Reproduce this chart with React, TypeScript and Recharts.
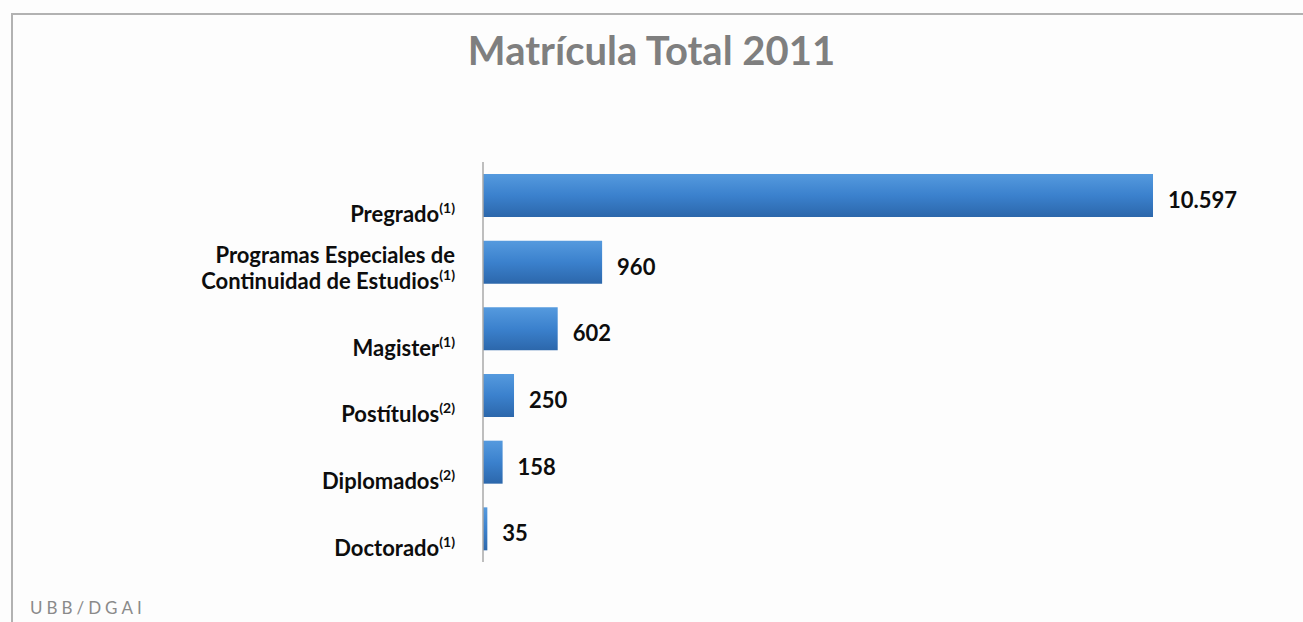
import { BarChart, Bar, XAxis, YAxis, LabelList } from "recharts";

const categories = [
  "Pregrado",
  "Programas Especiales de\nContinuidad de Estudios",
  "Magister",
  "Postítulos",
  "Diplomados",
  "Doctorado",
];
const notes = ["1", "1", "1", "2", "2", "1"];
const enrolment = [10597, 960, 602, 250, 158, 35];

// the source chart breaks the scale: Pregrado runs off the axis end
const AXIS_MAX = 5400;

const data = categories.map((name, i) => ({
  name,
  value: enrolment[i],
  shown: Math.min(enrolment[i], AXIS_MAX),
}));

const FONT = "Lato, 'Open Sans', sans-serif";

const fmt = (v: number) => String(v).replace(/\B(?=(\d{3})+(?!\d))/g, ".");

function CategoryTick(props: any) {
  const { x, y, payload } = props;
  const idx = categories.indexOf(payload.value);
  const lines = String(payload.value).split("\n");
  const last = lines.length - 1;
  return (
    <g>
      {lines.map((line, i) => (
        <text
          key={i}
          x={x}
          y={y + 27 - (last - i) * 26}
          textAnchor="end"
          fontFamily={FONT}
          fontWeight={700}
          fontSize={22}
          fill="#0d0d0d"
        >
          {line}
          {i === last && (
            <tspan dy={-9} fontSize={14}>
              ({notes[idx]})
            </tspan>
          )}
        </text>
      ))}
    </g>
  );
}

function ValueLabel(props: any) {
  const { x, y, width, height, index } = props;
  return (
    <text
      x={Number(x) + Number(width) + 15}
      y={Number(y) + Number(height) / 2 + 4}
      dominantBaseline="central"
      fontFamily={FONT}
      fontWeight={700}
      fontSize={22}
      fill="#0d0d0d"
    >
      {fmt(enrolment[index])}
    </text>
  );
}

export default function App() {
  return (
    <div
      style={{
        position: "absolute",
        left: 0,
        top: 0,
        width: 1303,
        height: 622,
        overflow: "hidden",
        background: "#fdfdfd",
      }}
    >
      <div
        style={{
          position: "absolute",
          left: 11,
          top: 13,
          width: 1300,
          height: 620,
          borderTop: "2px solid #b2b2b2",
          borderLeft: "2px solid #b2b2b2",
        }}
      />
      <div
        style={{
          position: "absolute",
          left: 0,
          width: 1303,
          top: 26,
          textAlign: "center",
          fontFamily: FONT,
          fontWeight: 700,
          fontSize: 40,
          color: "#7f7f7f",
        }}
      >
        Matrícula Total 2011
      </div>
      <div
        style={{
          position: "absolute",
          left: 30,
          top: 598,
          fontFamily: FONT,
          fontSize: 17,
          lineHeight: "20px",
          letterSpacing: 4,
          color: "#8a8a8a",
        }}
      >
        UBB/DGAI
      </div>
      <div style={{ position: "absolute", left: 0, top: 0 }}>
        <BarChart
          width={1303}
          height={622}
          data={data}
          layout="vertical"
          margin={{ top: 162, right: 150, bottom: 60, left: 0 }}
        >
          <defs>
            <linearGradient id="barFill" x1="0" y1="0" x2="0" y2="1">
              <stop offset="0%" stopColor="#559ade" />
              <stop offset="50%" stopColor="#3b81cd" />
              <stop offset="100%" stopColor="#2c67ab" />
            </linearGradient>
          </defs>
          <XAxis type="number" domain={[0, AXIS_MAX]} hide />
          <YAxis
            type="category"
            dataKey="name"
            width={483}
            axisLine={{ stroke: "#a8a8a8", strokeWidth: 1.5 }}
            tickLine={false}
            tickSize={0}
            tickMargin={28}
            tick={<CategoryTick />}
            interval={0}
          />
          <Bar
            dataKey="shown"
            fill="url(#barFill)"
            barSize={43}
            isAnimationActive={false}
          >
            <LabelList dataKey="shown" content={<ValueLabel />} />
          </Bar>
        </BarChart>
      </div>
    </div>
  );
}
